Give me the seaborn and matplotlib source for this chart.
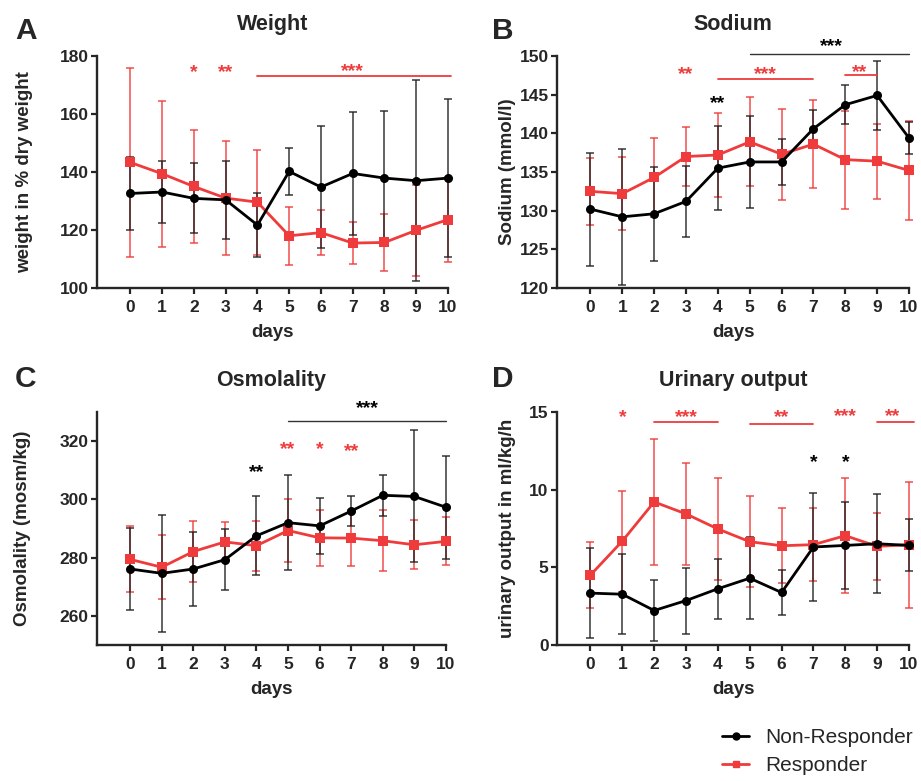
import numpy as np
import pandas as pd
import matplotlib
matplotlib.use("Agg")
import matplotlib.pyplot as plt
from matplotlib.lines import Line2D
import seaborn as sns

sns.set_style("ticks")
plt.rcParams["font.family"] = ["Liberation Sans", "DejaVu Sans"]

RED = "#ef3b3b"
BLACK = "black"

days = list(range(11))

# mean and SD per day
weight_nr = [132.6, 133.1, 130.9, 130.4, 121.7, 140.2, 134.8, 139.5, 137.9, 137.0, 137.9]
weight_nr_sd = [12.6, 10.6, 12.1, 13.5, 11.0, 8.2, 21.1, 21.3, 23.1, 34.6, 27.2]
weight_r = [143.3, 139.4, 135.0, 131.0, 129.6, 118.0, 119.1, 115.5, 115.7, 119.9, 123.6]
weight_r_sd = [32.7, 25.1, 19.4, 19.6, 18.1, 10.1, 7.8, 7.1, 9.9, 15.7, 14.8]

sodium_nr = [130.2, 129.2, 129.6, 131.2, 135.5, 136.3, 136.3, 140.6, 143.7, 144.9, 139.4]
sodium_nr_sd = [7.3, 8.8, 6.05, 4.6, 5.45, 5.95, 2.95, 2.45, 2.55, 4.5, 2.1]
sodium_r = [132.5, 132.2, 134.3, 137.0, 137.2, 138.9, 137.3, 138.6, 136.6, 136.4, 135.2]
sodium_r_sd = [4.35, 4.7, 5.1, 3.8, 5.4, 5.75, 5.9, 5.7, 6.35, 4.85, 6.4]

osmo_nr = [276.1, 274.6, 276.1, 279.3, 287.5, 292.0, 290.9, 296.0, 301.4, 301.0, 297.3]
osmo_nr_sd = [14.05, 20.15, 12.55, 10.55, 13.5, 16.3, 9.7, 5.1, 6.95, 22.65, 17.7]
osmo_r = [279.4, 276.7, 282.1, 285.4, 284.1, 289.3, 286.8, 286.7, 285.8, 284.4, 285.6]
osmo_r_sd = [11.35, 10.9, 10.6, 6.8, 8.55, 10.9, 9.65, 9.7, 10.45, 8.45, 8.2]

urine_nr = [3.34, 3.27, 2.22, 2.86, 3.62, 4.30, 3.38, 6.31, 6.41, 6.52, 6.41]
urine_nr_sd = [2.88, 2.56, 1.97, 2.12, 1.92, 2.63, 1.42, 3.47, 2.81, 3.2, 1.67]
urine_r = [4.50, 6.69, 9.21, 8.44, 7.47, 6.65, 6.39, 6.46, 7.04, 6.35, 6.46]
urine_r_sd = [2.1, 3.25, 4.06, 3.3, 3.26, 2.92, 2.41, 2.36, 3.7, 2.15, 4.06]

# significance marks: (text, day, y, colour) and bars: (day0, day1, y, colour)
weight_stars = [("*", 2, 176.6, RED), ("**", 3, 176.6, RED), ("***", 7, 176.8, RED)]
weight_bars = [(4, 10.1, 173.1, RED)]
sodium_stars = [("**", 3, 148.4, RED), ("***", 5.5, 148.4, RED), ("**", 4, 144.7, BLACK),
                ("***", 7.55, 152.1, BLACK), ("**", 8.45, 148.7, RED)]
sodium_bars = [(4, 7, 147.0, RED), (5, 10, 150.3, "#333333"), (8, 9, 147.5, RED)]
osmo_stars = [("**", 4, 311.6, BLACK), ("**", 5, 319.4, RED), ("*", 6, 319.4, RED),
              ("**", 7, 318.7, RED), ("***", 7.5, 333.4, BLACK)]
osmo_bars = [(5, 10, 326.9, "#333333")]
urine_stars = [("*", 1, 15.06, RED), ("***", 3, 15.06, RED), ("**", 6, 15.06, RED),
               ("***", 8, 15.1, RED), ("**", 9.5, 15.1, RED), ("*", 7, 12.2, BLACK), ("*", 8, 12.2, BLACK)]
urine_bars = [(2, 4, 14.35, RED), (5, 7, 14.25, RED), (9, 10.15, 14.37, RED)]


def make_frame(nr, nr_sd, r, r_sd):
  return pd.DataFrame({
    "day": days * 2,
    "value": nr + r,
    "sd": nr_sd + r_sd,
    "group": ["Non-Responder"] * len(days) + ["Responder"] * len(days)
  })


panels = [
  ("A", "Weight", "weight in % dry weight", make_frame(weight_nr, weight_nr_sd, weight_r, weight_r_sd),
   (100, 180), np.arange(100, 181, 20), weight_stars, weight_bars,
   [97/921, 1-288/781, 351/921, 232/781], (15/921, 1-39/781), -0.183),
  ("B", "Sodium", "Sodium (mmol/l)", make_frame(sodium_nr, sodium_nr_sd, sodium_r, sodium_r_sd),
   (120, 150), np.arange(120, 151, 5), sodium_stars, sodium_bars,
   [557/921, 1-288/781, 352/921, 232/781], (492/921, 1-39/781), -0.117),
  ("C", "Osmolality", "Osmolality (mosm/kg)", make_frame(osmo_nr, osmo_nr_sd, osmo_r, osmo_r_sd),
   (250, 330), np.arange(260, 321, 20), osmo_stars, osmo_bars,
   [97/921, 1-645/781, 349/921, 233/781], (15/921, 1-387/781), -0.19),
  ("D", "Urinary output", "urinary output in ml/kg/h", make_frame(urine_nr, urine_nr_sd, urine_r, urine_r_sd),
   (0, 15), np.arange(0, 16, 5), urine_stars, urine_bars,
   [557/921, 1-645/781, 352/921, 233/781], (492/921, 1-387/781), -0.116),
]

fig = plt.figure(figsize=(9.21, 7.81), dpi=100)

for letter, title, ylab, df, ylim, yticks, stars, bars, rect, lpos, ylab_x in panels:
  ax = fig.add_axes(rect)

  for grp, col in [("Responder", RED), ("Non-Responder", "#222222")]:
    d = df[df.group == grp]
    ax.errorbar(d.day, d.value, yerr=d.sd, fmt="none", ecolor=col, elinewidth=1.1,
                capsize=2.6, capthick=1.1, zorder=1, clip_on=False, alpha=0.9)

  sns.lineplot(data=df, x="day", y="value", hue="group", style="group",
               hue_order=["Responder", "Non-Responder"],
               palette={"Responder": RED, "Non-Responder": BLACK},
               markers={"Responder": "s", "Non-Responder": "o"}, dashes=False,
               markersize=6.5, markeredgewidth=0, linewidth=2, errorbar=None,
               legend=False, ax=ax, zorder=3, clip_on=False)

  for txt, x, y, col in stars:
    ax.annotate(txt, (x, y), xytext=(0, -8), textcoords="offset points", ha="center",
                va="baseline", fontsize=14, fontweight="bold", color=col, annotation_clip=False)
  for x0, x1, y, col in bars:
    ax.plot([x0, x1], [y, y], color=col, lw=1.3 if col == RED else 1.0, clip_on=False)

  ax.set_xlim(-1.05, 10)
  ax.set_ylim(*ylim)
  ax.set_xticks(days)
  ax.set_yticks(yticks)
  sns.despine(ax=ax)
  for s in ["left", "bottom"]:
    ax.spines[s].set_linewidth(1.7)
  ax.tick_params(width=1.6, length=4.5, labelsize=12.5)
  ax.tick_params(axis="y", pad=1.5)
  ax.tick_params(axis="x", pad=4)
  for lab in ax.get_xticklabels() + ax.get_yticklabels():
    lab.set_fontweight("bold")

  ax.set_title(title, fontsize=15.5, fontweight="bold", pad=19)
  ax.set_xlabel("days", fontsize=13.5, fontweight="bold", va="top")
  ax.xaxis.set_label_coords(0.5, -0.155)
  ax.set_ylabel(ylab, fontsize=13.5, fontweight="bold")
  ax.yaxis.set_label_coords(ylab_x, 0.5)

  fig.text(lpos[0], lpos[1], letter, fontsize=21.5, fontweight="bold", va="baseline")

handles = [
  Line2D([], [], color=BLACK, marker="o", markersize=5, lw=2),
  Line2D([], [], color=RED, marker="s", markersize=5, lw=2),
]
fig.legend(handles, ["Non-Responder", "Responder"], loc="upper left",
           bbox_to_anchor=(0.784, 0.068), frameon=False, fontsize=15,
           handlelength=1.3, handletextpad=0.75, labelspacing=0.45,
           borderpad=0, borderaxespad=0)

fig.savefig("out.png", dpi=100)
